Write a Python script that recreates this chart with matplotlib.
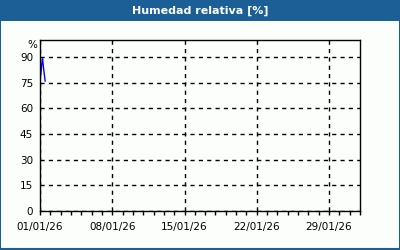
import numpy as np
import pandas as pd
import matplotlib
matplotlib.use('Agg')
import matplotlib.pyplot as plt
import matplotlib.dates as mdates
from matplotlib.patches import Rectangle

# humidity readings (first hours of the month)
times = ['2026-01-01 02:00', '2026-01-01 04:00', '2026-01-01 06:00',
         '2026-01-01 08:00', '2026-01-01 10:00', '2026-01-01 12:00']
humidity = [80, 86, 89, 84, 80, 76]
yticks = [0, 15, 30, 45, 60, 75, 90]
xticks = ['2026-01-01', '2026-01-08', '2026-01-15', '2026-01-22', '2026-01-29']

t = pd.to_datetime(times)
xt = pd.to_datetime(xticks)

blue = '#1c5e96'
bg = '#fcfefc'

fig = plt.figure(figsize=(4, 2.5), dpi=100, facecolor=bg)
# title bar and frame
fig.patches.append(Rectangle((0, 0.916), 1, 0.084, transform=fig.transFigure,
                             facecolor=blue, edgecolor='none', zorder=0))
fig.patches.append(Rectangle((0.0012, 0.004), 0.9976, 0.994, transform=fig.transFigure,
                             facecolor='none', edgecolor=blue, lw=1.5, zorder=1))
fig.text(0.5, 0.958, 'Humedad relativa [%]', color='white', fontweight='bold',
         fontsize=8, ha='center', va='center')

ax = fig.add_axes([0.1, 0.156, 0.8, 0.684])
ax.set_facecolor(bg)
ax.plot(t, humidity, color='#0000ff', lw=1)

ax.set_xlim(pd.Timestamp('2026-01-01'), pd.Timestamp('2026-02-01'))
ax.set_ylim(0, 100)
ax.set_yticks(yticks)
ax.set_xticks(xt)
ax.xaxis.set_major_formatter(mdates.DateFormatter('%d/%m/%y'))
ax.xaxis.set_minor_locator(mdates.DayLocator())
ax.tick_params(axis='x', which='both', direction='out', length=3, width=1,
               labelsize=7.5, pad=5, colors='black')
ax.tick_params(axis='y', length=0, labelsize=7.5, pad=5)
for s in ax.spines.values():
    s.set_linewidth(1)
ax.grid(True, color='black', linestyle=(0, (3, 3)), linewidth=1)
ax.text(-0.01, 1.0, '%', transform=ax.transAxes, ha='right', va='top', fontsize=7.5)

fig.savefig('out.png', dpi=100, facecolor=bg)
